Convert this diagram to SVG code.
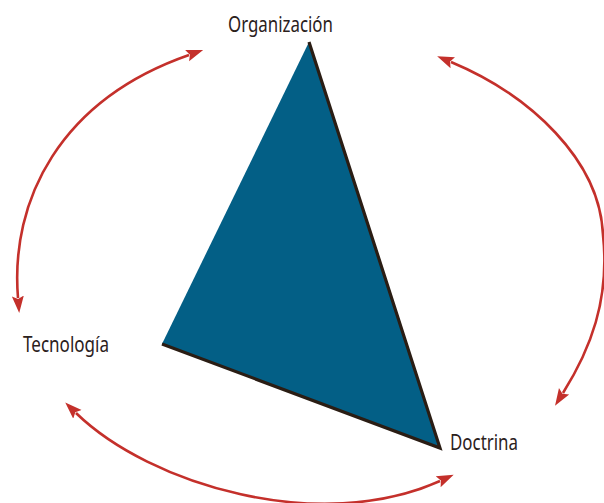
<svg xmlns="http://www.w3.org/2000/svg" width="604" height="503" viewBox="0 0 604 503">
<style>
.lbl{font-family:"Noto Sans","Liberation Sans",sans-serif;font-size:22px;fill:#2b211c}
.arc{fill:none;stroke:#c4302b;stroke-width:2.6;marker-start:url(#ah);marker-end:url(#ah)}
</style>
<defs>
<marker id="ah" markerUnits="userSpaceOnUse" markerWidth="17" markerHeight="14" viewBox="0 0 17 14" refX="2" refY="7" orient="auto-start-reverse">
<path d="M0,1 L17,7 L0,13 L3,7 z" fill="#c4302b"/>
</marker>
</defs>
<g id="triangle">
<polygon points="309,42 162,344 440,448" fill="#035f86"/>
<polyline points="309,42 440,448 162,344" fill="none" stroke="#2a1d14" stroke-width="3.2" stroke-linejoin="miter"/>
</g>
<g id="organizacion"><text class="lbl" x="228" y="32" textLength="105" lengthAdjust="spacingAndGlyphs">Organización</text></g>
<g id="tecnologia"><text class="lbl" x="23" y="352" textLength="86" lengthAdjust="spacingAndGlyphs">Tecnología</text></g>
<g id="doctrina"><text class="lbl" x="450" y="450" textLength="68" lengthAdjust="spacingAndGlyphs">Doctrina</text></g>
<g id="connectors">
<path class="arc" d="M18,298 C10,200 60,100 189,55"/>
<path class="arc" d="M451,62 C530,95 600,160 603,235 C610,300 590,350 563,393"/>
<path class="arc" d="M76,413 C150,485 320,535 440,481"/>
</g>
</svg>
